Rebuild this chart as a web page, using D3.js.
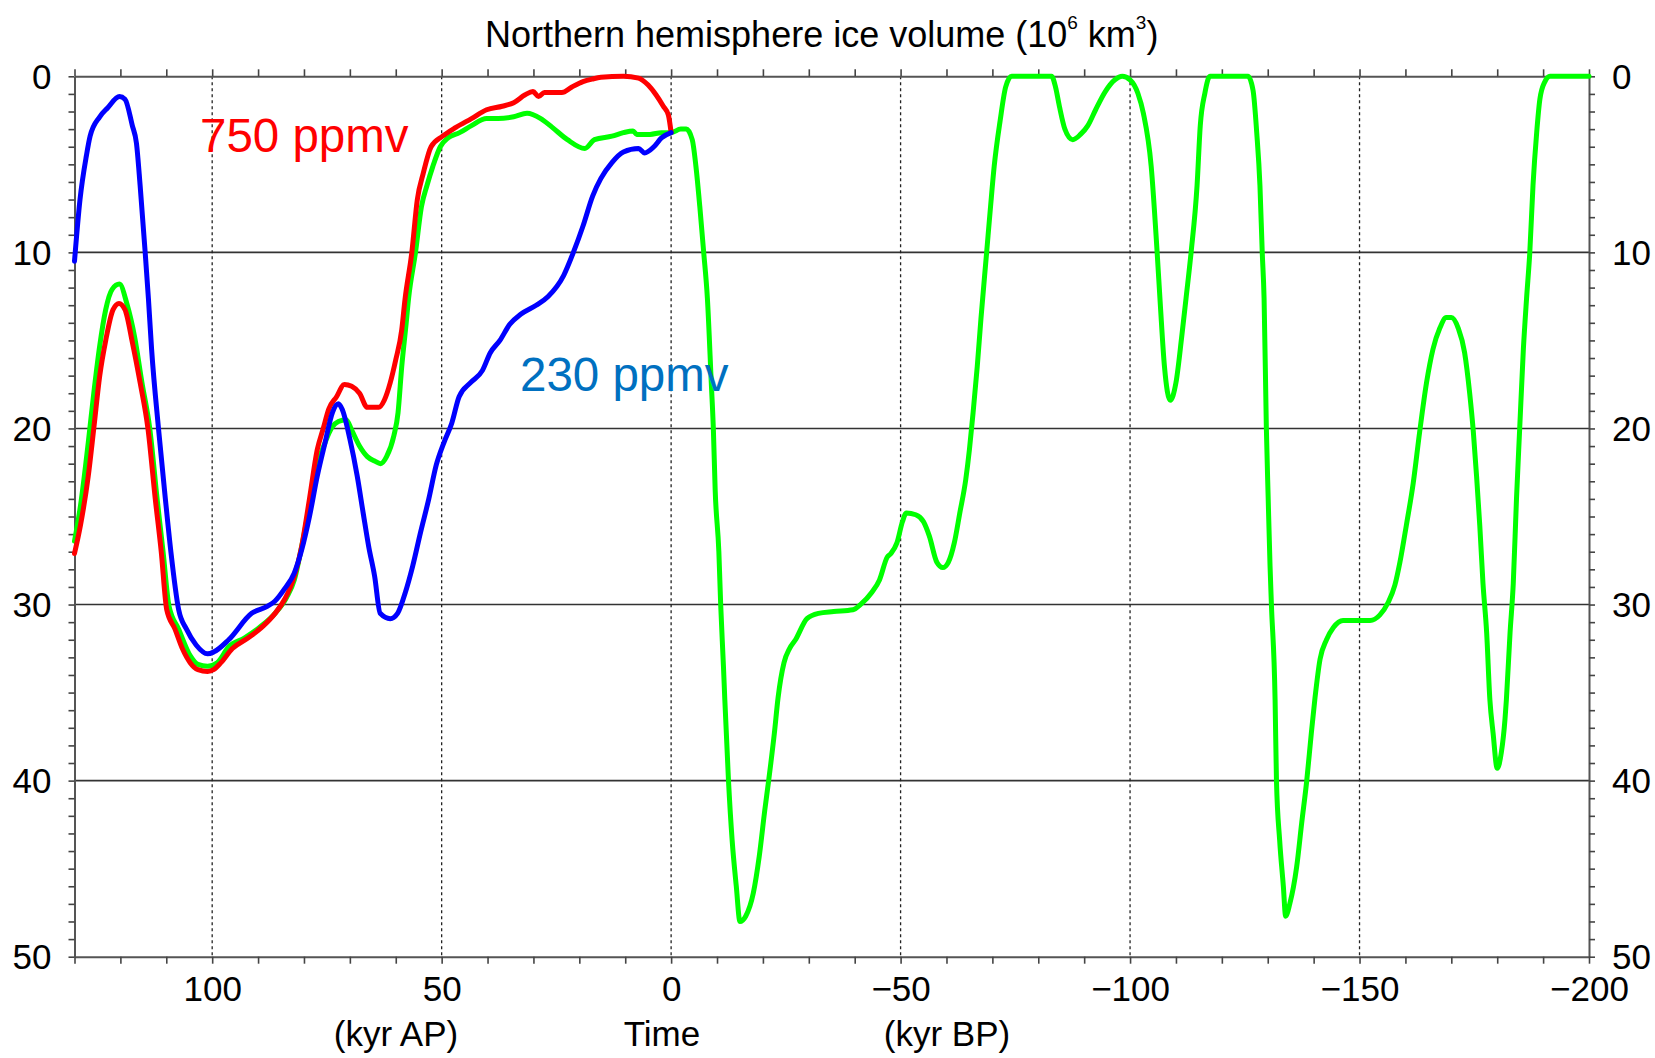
<html>
<head>
  <title>Northern hemisphere ice volume</title>
  <script src="https://d3js.org/d3.v7.min.js"></script>
  <style>
    body { margin: 0; background: #fff; }
    svg text { font-family: "Liberation Sans", Arial, Helvetica, sans-serif; fill: #000; }
  </style>
</head>
<body>
  <svg id="root"></svg>
  <script>
    // time in kyr (positive = after present, negative = before present), ice volume in 10^6 km^3
    var blue230 = [[130,10.5],[128.8,7.0],[127.4,4.5],[126.6,3.4],[124.5,2.3],[122.8,1.8],[120.2,1.15],[119,1.3],[117.4,2.8],[116.5,3.8],[115.7,6.2],[114.6,10],[113.9,12.6],[113.2,15.5],[111.7,20],[110.2,24],[109,27],[107.3,30.3],[105.6,31.4],[103.5,32.3],[101,32.8],[99.7,32.7],[96.4,32.0],[91.4,30.5],[88,30.1],[86.3,29.8],[84.2,29.1],[82.1,28.2],[80.5,26.9],[78.8,25],[77.1,22.7],[75.4,20.8],[73.8,19.1],[72.5,18.6],[71.7,18.9],[70,20.6],[68.4,22.7],[67.1,24.8],[65.9,26.7],[64.6,28.4],[63.4,30.5],[61.2,30.8],[59.6,30.5],[57.9,29.3],[56.3,27.8],[54.6,25.9],[52.8,24],[51.2,22.1],[49.5,20.8],[47.8,19.7],[46.2,18.2],[43.7,17.4],[41.1,16.7],[39.4,15.7],[37.3,15.0],[35.2,14.1],[32.7,13.5],[29.4,13],[26.8,12.5],[23.4,11.3],[21.3,10],[19.2,8.5],[17.1,6.8],[15.3,5.8],[12.9,4.9],[10.4,4.3],[7.1,4.1],[5.8,4.35],[3.75,4.0],[2.1,3.5],[0,3.2]];

    var red750 = [[130,27.1],[128.7,25.5],[127,22.7],[125.8,20],[124.5,17],[123.2,15],[121.6,13.25],[120.3,12.9],[119,13.25],[117.4,15.1],[115.7,17.4],[114,20],[112.4,24],[111.1,27],[109.9,30.3],[108.1,31.4],[106.5,32.5],[104.8,33.3],[103.1,33.7],[101,33.8],[99.7,33.7],[98.1,33.3],[95.6,32.5],[92.2,31.9],[88.8,31.2],[86.3,30.5],[84.2,29.7],[82.1,28.4],[80.5,26.7],[78.8,24],[77.1,21.2],[75.8,20],[74.6,18.9],[72.9,18.2],[71.2,17.5],[69.6,17.6],[67.9,18],[66.2,18.8],[63.7,18.8],[62.5,18.4],[61.2,17.4],[60,16.1],[58.7,14.4],[58,12.7],[56.5,10],[55.3,7],[54,5.5],[52.3,4],[49.8,3.4],[46.9,2.9],[43.5,2.4],[40.2,1.9],[36.8,1.7],[34.3,1.5],[31.8,1.05],[30.1,0.87],[28.9,1.15],[27.6,0.92],[23.8,0.92],[21.7,0.62],[19.2,0.3],[17.1,0.15],[15.3,0.06],[10.4,0],[7.1,0.1],[5,0.5],[3.3,1.05],[1.7,1.7],[0.6,2.2],[0,3.2]];

    var greenRef = [[130,26.4],[128.7,24.4],[127,20.8],[125.8,18],[124.5,15.3],[123.2,13.25],[121.8,12.1],[120.2,11.8],[118.6,12.9],[116.9,14.8],[115.3,17.4],[113.6,20],[112,24],[110.7,27],[109.4,30.1],[107.3,31.4],[104.8,32.9],[103.1,33.4],[101,33.5],[98.9,33.3],[96.4,32.4],[93,31.9],[89.7,31.3],[86.3,30.5],[83.8,29.6],[82.1,28.6],[80.5,26.7],[78.8,24.4],[77.1,22.1],[75.4,20.8],[73.8,19.9],[72.5,19.6],[70.8,19.5],[69.6,20.1],[67.9,21],[66.2,21.6],[64.6,21.85],[63.3,22],[62,21.6],[60.4,20.4],[59.5,19.1],[58.7,16.5],[57.8,14.2],[57.2,12.6],[55.7,10],[54.4,7.4],[53.2,6.2],[51.9,5.1],[50.3,4],[48.6,3.5],[46.1,3.2],[43.5,2.8],[40.2,2.4],[37.7,2.4],[34.3,2.3],[31.4,2.1],[28.4,2.4],[25.9,2.9],[22.6,3.6],[18.8,4.1],[16.7,3.6],[12.9,3.4],[10.4,3.2],[8.3,3.1],[7.5,3.3],[4.6,3.3],[2.1,3.2],[0,3.2],[-2.1,3.0],[-3.3,3.0],[-4.6,3.6],[-5.4,5.1],[-6.25,7.4],[-7.1,10],[-7.9,12.6],[-8.75,17.4],[-9.2,20],[-9.6,23.5],[-10.4,27],[-10.8,30],[-11.4,33.5],[-11.7,35.4],[-12.5,40],[-13.3,43.4],[-14.2,46],[-15,48],[-16.25,47.7],[-17.9,46.4],[-19.2,44.3],[-20.4,41.7],[-21.25,40],[-22.5,37.3],[-23.3,35.3],[-24.6,33.3],[-25.8,32.5],[-27.1,32],[-29.6,30.8],[-32.1,30.5],[-35.4,30.4],[-39.6,30.3],[-41.25,30],[-43.75,29.3],[-45.4,28.6],[-47.1,27.3],[-47.9,27.1],[-49.2,26.5],[-50.4,25.3],[-51.25,24.8],[-53.3,24.9],[-55,25.3],[-56.25,26.1],[-57.9,27.6],[-59.2,27.9],[-60.4,27.6],[-61.7,26.5],[-62.9,24.8],[-64.2,22.9],[-65,21.2],[-65.8,19.1],[-66.7,16.5],[-67.5,13.8],[-68.75,10],[-69.6,7.4],[-70.4,5.1],[-71.7,2.5],[-72.9,0.6],[-74.2,0],[-82.9,0],[-83.75,0.6],[-84.6,1.7],[-85.8,3.0],[-87.5,3.6],[-89.2,3.3],[-90.8,2.8],[-92.5,1.9],[-94.6,0.87],[-96.7,0.2],[-98.3,0],[-100,0.2],[-101.7,0.96],[-102.9,2.1],[-104.6,5.1],[-105.9,10],[-106.6,13],[-107.5,16.5],[-108.75,18.4],[-110,17.4],[-111.25,14.8],[-112.2,12.6],[-113.3,10],[-114.6,6.2],[-115.3,2.8],[-116.3,0.96],[-117.4,0],[-125.7,0],[-126.8,0.8],[-127.6,3.2],[-128.3,6.2],[-128.8,10],[-129.2,12.6],[-129.7,20],[-130.1,24],[-130.5,27.8],[-130.8,30],[-131.6,35.4],[-131.9,40],[-132.6,43.4],[-133.4,46],[-133.9,47.7],[-134.8,47],[-136.3,44.9],[-137.4,42.4],[-138.5,40],[-139.5,37.3],[-140.3,35.3],[-141.4,33.1],[-142.8,32],[-144.3,31.3],[-146.4,30.9],[-150,30.9],[-152.3,30.9],[-154.4,30.6],[-156.2,29.9],[-157.7,28.9],[-158.8,27.6],[-160.2,25.5],[-161.7,23.1],[-163.1,20.2],[-164.6,17.4],[-166,15.5],[-167.5,14.3],[-168.9,13.7],[-170,13.7],[-171.5,14.3],[-172.9,15.7],[-174,18],[-174.8,20.2],[-175.5,22.7],[-176.2,25.5],[-176.9,28.8],[-177.7,31.6],[-178.4,35.4],[-179.1,37.3],[-180,39.3],[-180.9,38.4],[-181.7,36.5],[-182,35.4],[-182.8,31.6],[-183.5,28.8],[-184.2,24],[-184.9,20],[-185.7,15.5],[-186.4,12.6],[-187.1,10],[-187.8,6.2],[-188.6,3.2],[-189.3,1.3],[-190.4,0.3],[-191.5,0],[-200,0]];

    var xLabelTicks = [100, 50, 0, -50, -100, -150, -200];
    var yLabelTicks = [0, 10, 20, 30, 40, 50];
    var xGridTicks = [100, 50, 0, -50, -100, -150];
    var yGridTicks = [10, 20, 30, 40];
    var titleText = 'Northern hemisphere ice volume';

    function drawChart() {
      var width = 1655, height = 1058;
      var pL = 74.5, pR = 1589, pT = 76.3, pB = 956.7;

      var svg = d3.select('svg#root')
        .attr('width', width)
        .attr('height', height);

      var scaleX = d3.scaleLinear().domain([130, -200]).range([pL, pR]);
      var scaleY = d3.scaleLinear().domain([0, 50]).range([pT, pB]);

      var fmt = function (d) { return d < 0 ? '\u2212' + (-d) : String(d); };

      // grid
      svg.append('g').selectAll('line')
        .data(yGridTicks).enter().append('line')
        .attr('x1', pL).attr('x2', pR)
        .attr('y1', function (d) { return scaleY(d); })
        .attr('y2', function (d) { return scaleY(d); })
        .attr('stroke', '#333').attr('stroke-width', 1.6);

      svg.append('g').selectAll('line')
        .data(xGridTicks).enter().append('line')
        .attr('y1', pT).attr('y2', pB)
        .attr('x1', function (d) { return scaleX(d); })
        .attr('x2', function (d) { return scaleX(d); })
        .attr('stroke', '#222').attr('stroke-width', 1.3)
        .attr('stroke-dasharray', '3,3');

      // axes, minor ticks every 10 kyr and every 1 unit
      var minorX = d3.range(130, -201, -10);
      var minorY = d3.range(0, 51, 1);

      function styleAxis(g) {
        g.select('.domain').attr('stroke', '#555').attr('stroke-width', 2);
        g.selectAll('.tick line').attr('stroke', '#444').attr('stroke-width', 1.6);
        g.selectAll('.tick text').style('font-size', '35px').attr('fill', '#000');
      }

      svg.append('g')
        .attr('transform', 'translate(0,' + pB + ')')
        .call(d3.axisBottom(scaleX).tickValues(minorX).tickSizeInner(7).tickSizeOuter(0).tickPadding(12)
          .tickFormat(function (d) { return xLabelTicks.indexOf(d) >= 0 ? fmt(d) : ''; }))
        .call(styleAxis);

      svg.append('g')
        .attr('transform', 'translate(0,' + pT + ')')
        .call(d3.axisTop(scaleX).tickValues(minorX).tickSizeInner(7).tickSizeOuter(0).tickFormat(''))
        .call(styleAxis);

      svg.append('g')
        .attr('transform', 'translate(' + pL + ',0)')
        .call(d3.axisLeft(scaleY).tickValues(minorY).tickSizeInner(6).tickSizeOuter(0).tickPadding(17)
          .tickFormat(function (d) { return yLabelTicks.indexOf(d) >= 0 ? fmt(d) : ''; }))
        .call(styleAxis)
        .selectAll('.tick text').attr('dy', '0.35em');

      svg.append('g')
        .attr('transform', 'translate(' + pR + ',0)')
        .call(d3.axisRight(scaleY).tickValues(minorY).tickSizeInner(6).tickSizeOuter(0).tickPadding(17)
          .tickFormat(function (d) { return yLabelTicks.indexOf(d) >= 0 ? fmt(d) : ''; }))
        .call(styleAxis)
        .selectAll('.tick text').attr('dy', '0.35em');

      // curves
      var line = d3.line()
        .curve(d3.curveMonotoneX)
        .x(function (d) { return scaleX(d[0]); })
        .y(function (d) { return scaleY(d[1]); });

      [[greenRef, '#00ff00'], [red750, '#ff0000'], [blue230, '#0000ff']].forEach(function (s) {
        svg.append('path')
          .datum(s[0])
          .attr('fill', 'none')
          .attr('stroke', s[1])
          .attr('stroke-width', 5)
          .attr('stroke-linejoin', 'round')
          .attr('stroke-linecap', 'round')
          .attr('d', line);
      });

      // labels
      svg.append('text')
        .attr('x', 200).attr('y', 152)
        .style('font-size', '47.5px').style('fill', '#ff0000')
        .text('750 ppmv');

      svg.append('text')
        .attr('x', 520).attr('y', 391)
        .style('font-size', '47.5px').style('fill', '#0070c0')
        .text('230 ppmv');

      var title = svg.append('text')
        .attr('x', 485).attr('y', 47)
        .style('font-size', '36px');
      title.append('tspan').text(titleText + ' (10');
      title.append('tspan').attr('dy', -18).style('font-size', '19px').text('6');
      title.append('tspan').attr('dy', 18).text(' km');
      title.append('tspan').attr('dy', -18).style('font-size', '19px').text('3');
      title.append('tspan').attr('dy', 18).text(')');

      svg.append('text').attr('x', 396).attr('y', 1046).attr('text-anchor', 'middle')
        .style('font-size', '35px').text('(kyr AP)');
      svg.append('text').attr('x', 662).attr('y', 1046).attr('text-anchor', 'middle')
        .style('font-size', '35px').text('Time');
      svg.append('text').attr('x', 947).attr('y', 1046).attr('text-anchor', 'middle')
        .style('font-size', '35px').text('(kyr BP)');
    }

    drawChart();
  </script>
</body>
</html>
